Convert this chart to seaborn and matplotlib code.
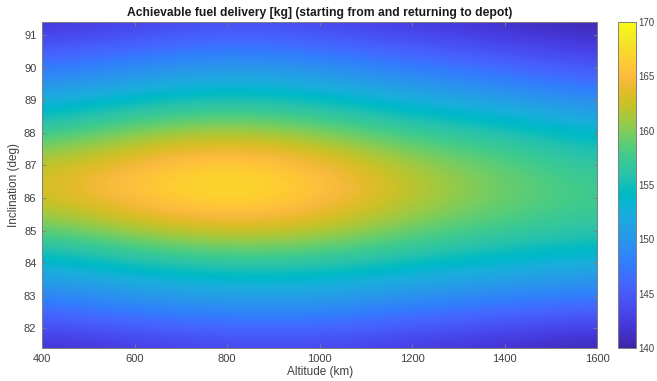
import matplotlib
matplotlib.use("Agg")
import numpy as np
import pandas as pd
import matplotlib.pyplot as plt
import seaborn as sns
from matplotlib.colors import LinearSegmentedColormap

# Grid coordinates
altitudes = [400, 600, 800, 1000, 1200, 1400, 1600]                       # km
inclinations = [81.4, 82.4, 83.4, 84.4, 85.4, 86.4, 87.4, 88.4, 89.4, 90.4, 91.4]  # deg

# Achievable fuel delivery [kg] per altitude, listed from lowest to highest inclination
fuel_400 = [141.0, 145.5, 150.0, 155.0, 160.5, 163.5, 160.5, 155.0, 150.0, 145.5, 141.5]
fuel_600 = [142.0, 147.0, 152.0, 157.5, 163.5, 166.5, 163.5, 158.0, 152.0, 147.0, 142.5]
fuel_800 = [143.0, 148.0, 153.0, 159.0, 165.5, 169.0, 165.5, 159.5, 153.5, 148.5, 144.0]
fuel_1000 = [143.0, 148.0, 153.0, 158.5, 164.0, 166.5, 163.5, 158.0, 152.5, 147.5, 143.0]
fuel_1200 = [142.0, 146.5, 151.5, 156.5, 160.5, 162.5, 160.0, 155.5, 150.5, 146.0, 142.0]
fuel_1400 = [141.0, 145.5, 150.5, 155.0, 158.5, 159.5, 158.0, 154.0, 149.0, 144.5, 141.0]
fuel_1600 = [140.0, 144.5, 149.5, 154.0, 157.0, 157.5, 155.5, 152.0, 147.0, 143.0, 140.0]

x_ticks = [400, 600, 800, 1000, 1200, 1400, 1600]
y_ticks = [82, 83, 84, 85, 86, 87, 88, 89, 90, 91]
cbar_ticks = [140, 145, 150, 155, 160, 165, 170]

fuel = pd.DataFrame(
    {a: c for a, c in zip(altitudes,
                          [fuel_400, fuel_600, fuel_800, fuel_1000,
                           fuel_1200, fuel_1400, fuel_1600])},
    index=inclinations,
)

# MATLAB parula colour map (64 anchors, resampled smoothly)
parula = LinearSegmentedColormap.from_list("parula", [
    (0.2422, 0.1504, 0.6603), (0.2504, 0.1650, 0.7076), (0.2578, 0.1818, 0.7511),
    (0.2647, 0.1978, 0.7952), (0.2706, 0.2147, 0.8364), (0.2751, 0.2342, 0.8710),
    (0.2783, 0.2559, 0.8991), (0.2803, 0.2782, 0.9221), (0.2813, 0.3006, 0.9414),
    (0.2810, 0.3228, 0.9579), (0.2795, 0.3447, 0.9717), (0.2760, 0.3667, 0.9829),
    (0.2699, 0.3892, 0.9906), (0.2602, 0.4123, 0.9952), (0.2440, 0.4358, 0.9988),
    (0.2206, 0.4603, 0.9973), (0.1963, 0.4847, 0.9892), (0.1834, 0.5074, 0.9798),
    (0.1786, 0.5289, 0.9682), (0.1764, 0.5499, 0.9520), (0.1687, 0.5703, 0.9359),
    (0.1540, 0.5902, 0.9218), (0.1460, 0.6091, 0.9079), (0.1380, 0.6276, 0.8973),
    (0.1248, 0.6459, 0.8883), (0.1113, 0.6635, 0.8763), (0.0952, 0.6798, 0.8598),
    (0.0689, 0.6948, 0.8394), (0.0297, 0.7082, 0.8163), (0.0036, 0.7203, 0.7917),
    (0.0067, 0.7312, 0.7660), (0.0433, 0.7411, 0.7394), (0.0964, 0.7500, 0.7120),
    (0.1408, 0.7584, 0.6842), (0.1717, 0.7670, 0.6554), (0.1938, 0.7758, 0.6251),
    (0.2161, 0.7843, 0.5923), (0.2470, 0.7918, 0.5567), (0.2906, 0.7973, 0.5188),
    (0.3406, 0.8008, 0.4789), (0.3909, 0.8029, 0.4354), (0.4456, 0.8024, 0.3909),
    (0.5044, 0.7993, 0.3480), (0.5616, 0.7942, 0.3045), (0.6174, 0.7876, 0.2612),
    (0.6720, 0.7793, 0.2227), (0.7242, 0.7698, 0.1910), (0.7738, 0.7598, 0.1646),
    (0.8203, 0.7498, 0.1535), (0.8634, 0.7406, 0.1596), (0.9035, 0.7330, 0.1774),
    (0.9393, 0.7288, 0.2100), (0.9728, 0.7298, 0.2394), (0.9956, 0.7434, 0.2371),
    (0.9970, 0.7659, 0.2199), (0.9952, 0.7893, 0.2028), (0.9892, 0.8136, 0.1885),
    (0.9786, 0.8386, 0.1766), (0.9676, 0.8639, 0.1643), (0.9610, 0.8890, 0.1537),
    (0.9597, 0.9135, 0.1423), (0.9628, 0.9373, 0.1265), (0.9691, 0.9606, 0.1064),
    (0.9769, 0.9839, 0.0805),
], N=256)

sns.set_theme(style="white")
plt.rcParams["font.family"] = ["Liberation Sans", "DejaVu Sans"]
text_col = "#404040"
edge_col = "#7f7f7f"

fig = plt.figure(figsize=(6.57, 3.81), dpi=100)
ax = fig.add_axes([0.064, 0.0866, 0.845, 0.8556])
cax = fig.add_axes([0.9406, 0.0866, 0.0274, 0.8556])

step_a = (altitudes[1] - altitudes[0]) / 2
step_i = (inclinations[1] - inclinations[0]) / 2
im = ax.imshow(
    fuel.values, origin="lower", aspect="auto", interpolation="bicubic",
    cmap=parula, vmin=140, vmax=170,
    extent=[altitudes[0] - step_a, altitudes[-1] + step_a,
            inclinations[0] - step_i, inclinations[-1] + step_i],
)
ax.set_xlim(altitudes[0], altitudes[-1])
ax.set_ylim(inclinations[0], inclinations[-1])
ax.set_xticks(x_ticks)
ax.set_yticks(y_ticks)
ax.tick_params(direction="in", length=3, width=0.6, color=edge_col,
               labelsize=8, labelcolor=text_col, top=True, right=True,
               bottom=True, left=True, pad=4)
for s in ax.spines.values():
    s.set_color(edge_col)
    s.set_linewidth(0.7)

ax.set_xlabel("Altitude (km)", fontsize=8.5, color=text_col, labelpad=2)
ax.set_ylabel("Inclination (deg)", fontsize=8.5, color=text_col, labelpad=3)
ax.set_title("Achievable fuel delivery [kg] (starting from and returning to depot)",
             fontsize=8.7, fontweight="bold", color="#1a1a1a", pad=4)

cb = fig.colorbar(im, cax=cax, ticks=cbar_ticks)
cb.outline.set_edgecolor(edge_col)
cb.outline.set_linewidth(0.7)
cax.tick_params(direction="in", length=3, width=0.6, color=edge_col,
                labelsize=7, labelcolor=text_col, pad=2)

fig.savefig("out.png", dpi=100)
